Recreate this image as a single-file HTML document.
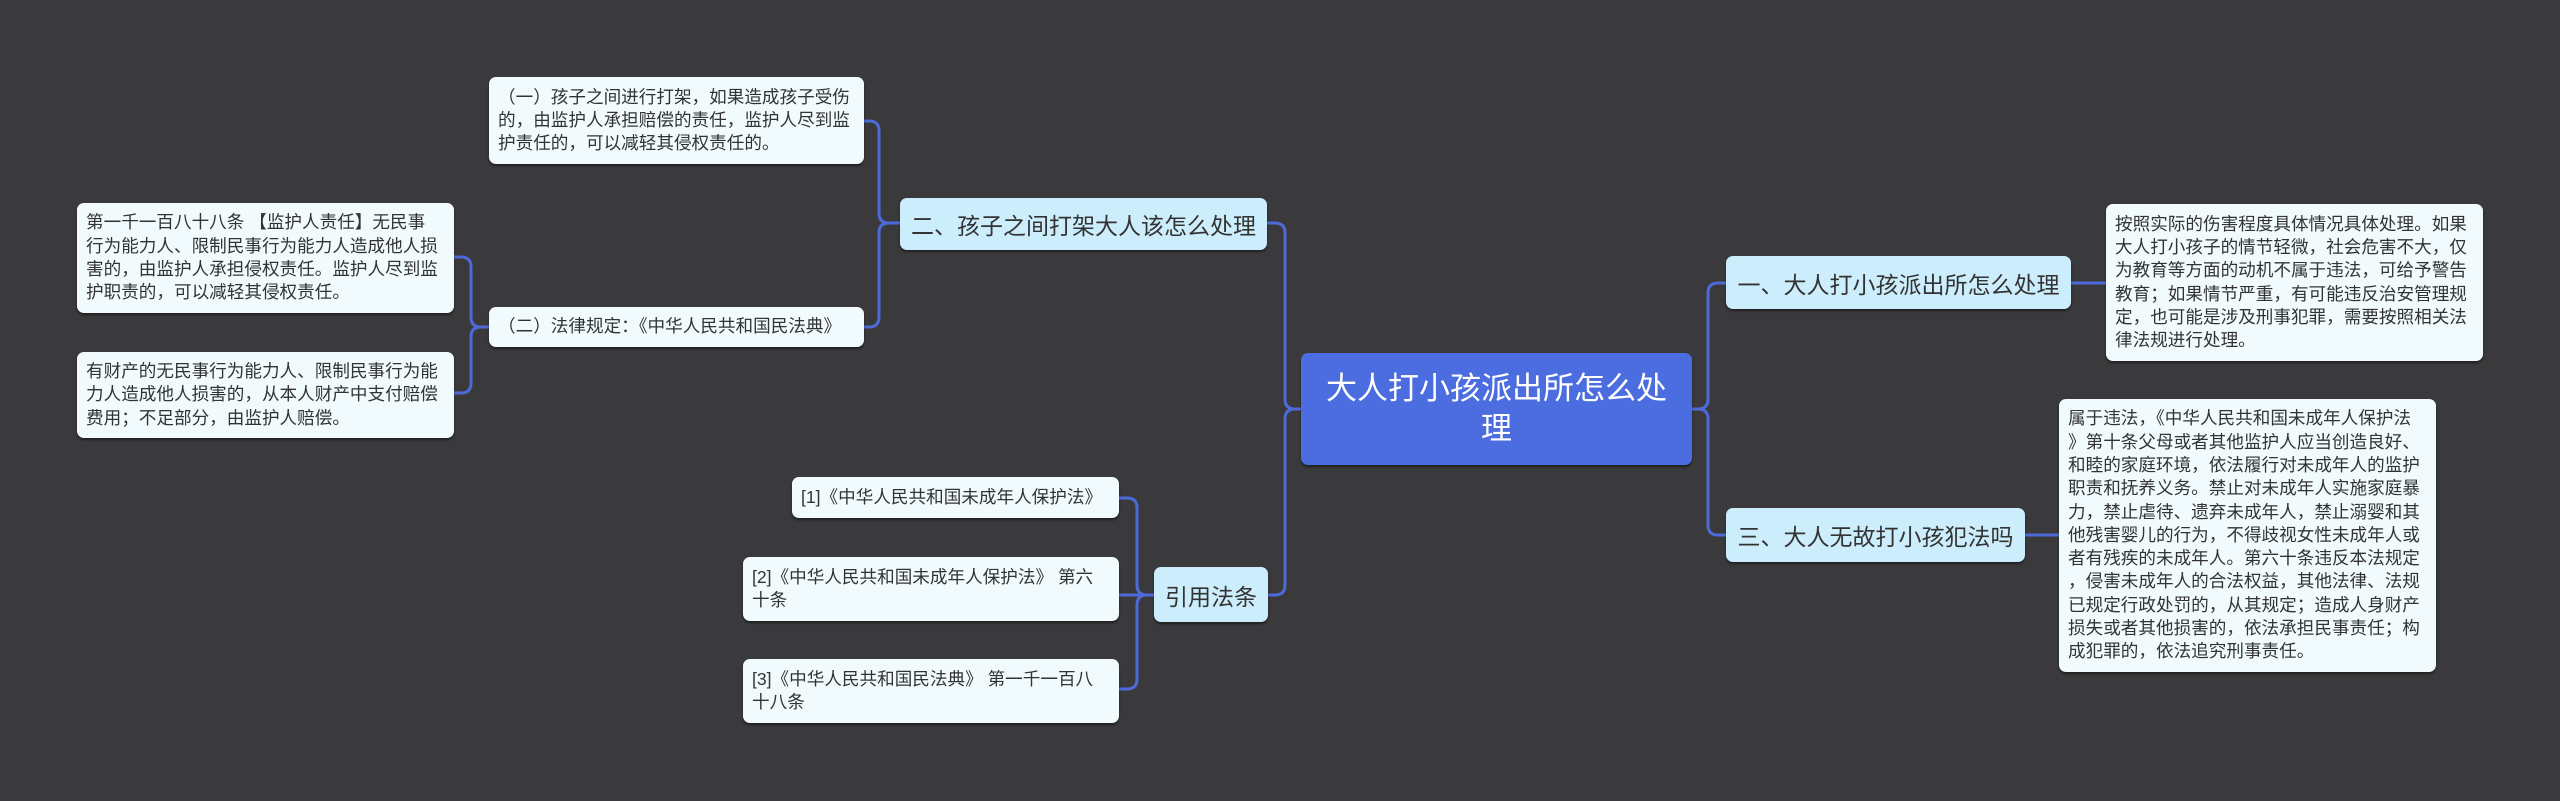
<!DOCTYPE html>
<html><head><meta charset="utf-8"><style>
html,body{margin:0;padding:0;}
body{width:2560px;height:801px;background:#3a393b;position:relative;overflow:hidden;font-family:"Liberation Sans","Noto Sans CJK SC",sans-serif;}
.n{position:absolute;box-sizing:border-box;border-radius:7px;color:#333;white-space:nowrap;box-shadow:0 2px 2px rgba(0,0,0,.45);display:flex;align-items:center;}
.d{background:#f1fbfd;font-size:17.6px;line-height:23.3px;padding:0 9px;}
.b{background:#ccedfb;font-size:23px;padding:0 10px;justify-content:center;}
.c{background:#4b6ddf;color:#fff;font-size:31px;line-height:40px;justify-content:center;text-align:center;}
svg{position:absolute;left:0;top:0;}
</style></head><body>
<svg width="2560" height="801" fill="none" stroke="#4d6ad8" stroke-width="3">
<path d="M1301 409 H1295 Q1285 409 1285 399 V233 Q1285 223 1275 223 H1267"/>
<path d="M1301 409 H1295 Q1285 409 1285 419 V585 Q1285 595 1275 595 H1268"/>
<path d="M1692 409 H1698 Q1708 409 1708 399 V293 Q1708 283 1718 283 H1726"/>
<path d="M1692 409 H1698 Q1708 409 1708 419 V525 Q1708 535 1718 535 H1726"/>
<path d="M2071 283 H2106"/>
<path d="M2025 535 H2059"/>
<path d="M900 223 H889 Q879 223 879 213 V131 Q879 121 869 121 H864"/>
<path d="M900 223 H889 Q879 223 879 233 V317 Q879 327 869 327 H864"/>
<path d="M489 327 H481 Q471 327 471 317 V267 Q471 257 461 257 H454"/>
<path d="M489 327 H481 Q471 327 471 337 V383 Q471 393 461 393 H454"/>
<path d="M1154 595 H1147 Q1137 595 1137 585 V508 Q1137 498 1127 498 H1119"/>
<path d="M1154 595 H1119"/>
<path d="M1154 595 H1147 Q1137 595 1137 605 V679 Q1137 689 1127 689 H1119"/>
</svg>

<div class="n c" style="left:1301px;top:353px;width:391px;height:112px;">大人打小孩派出所怎么处<br>理</div>

<div class="n b" style="left:900px;top:198px;width:367px;height:52px;">二、孩子之间打架大人该怎么处理</div>
<div class="n d" style="left:489px;top:77px;width:375px;height:87px;">（一）孩子之间进行打架，如果造成孩子受伤<br>的，由监护人承担赔偿的责任，监护人尽到监<br>护责任的，可以减轻其侵权责任的。</div>
<div class="n d" style="left:489px;top:307px;width:375px;height:40px;">（二）法律规定：《中华人民共和国民法典》</div>
<div class="n d" style="left:77px;top:203px;width:377px;height:110px;">第一千一百八十八条 【监护人责任】无民事<br>行为能力人、限制民事行为能力人造成他人损<br>害的，由监护人承担侵权责任。监护人尽到监<br>护职责的，可以减轻其侵权责任。</div>
<div class="n d" style="left:77px;top:352px;width:377px;height:86px;">有财产的无民事行为能力人、限制民事行为能<br>力人造成他人损害的，从本人财产中支付赔偿<br>费用；不足部分，由监护人赔偿。</div>

<div class="n b" style="left:1154px;top:567px;width:114px;height:55px;">引用法条</div>
<div class="n d" style="left:792px;top:477px;width:327px;height:41px;">[1]《中华人民共和国未成年人保护法》</div>
<div class="n d" style="left:743px;top:557px;width:376px;height:64px;">[2]《中华人民共和国未成年人保护法》 第六<br>十条</div>
<div class="n d" style="left:743px;top:659px;width:376px;height:64px;">[3]《中华人民共和国民法典》 第一千一百八<br>十八条</div>

<div class="n b" style="left:1726px;top:256px;width:345px;height:53px;">一、大人打小孩派出所怎么处理</div>
<div class="n d" style="left:2106px;top:204px;width:377px;height:157px;">按照实际的伤害程度具体情况具体处理。如果<br>大人打小孩子的情节轻微，社会危害不大，仅<br>为教育等方面的动机不属于违法，可给予警告<br>教育；如果情节严重，有可能违反治安管理规<br>定，也可能是涉及刑事犯罪，需要按照相关法<br>律法规进行处理。</div>
<div class="n b" style="left:1726px;top:508px;width:299px;height:54px;">三、大人无故打小孩犯法吗</div>
<div class="n d" style="left:2059px;top:399px;width:377px;height:273px;">属于违法，《中华人民共和国未成年人保护法<br>》第十条父母或者其他监护人应当创造良好、<br>和睦的家庭环境，依法履行对未成年人的监护<br>职责和抚养义务。禁止对未成年人实施家庭暴<br>力，禁止虐待、遗弃未成年人，禁止溺婴和其<br>他残害婴儿的行为，不得歧视女性未成年人或<br>者有残疾的未成年人。第六十条违反本法规定<br>，侵害未成年人的合法权益，其他法律、法规<br>已规定行政处罚的，从其规定；造成人身财产<br>损失或者其他损害的，依法承担民事责任；构<br>成犯罪的，依法追究刑事责任。</div>
</body></html>
